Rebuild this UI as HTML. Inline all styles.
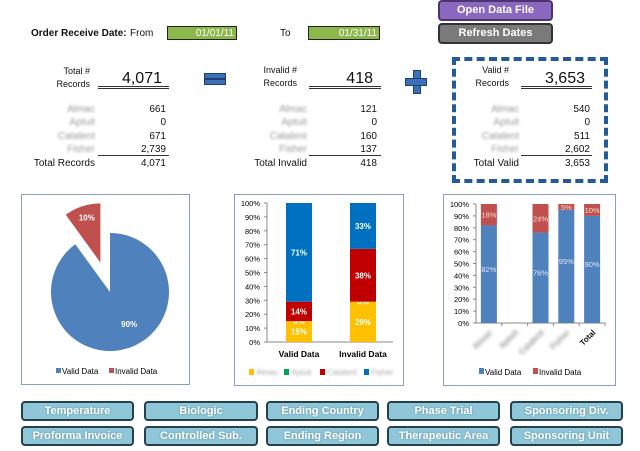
<!DOCTYPE html>
<html><head><meta charset="utf-8"><style>
body{margin:0;width:640px;height:451px;background:#fff;position:relative;overflow:hidden;font-family:"Liberation Sans",sans-serif;color:#111}
.a{position:absolute;white-space:nowrap}
.r{text-align:right}
.blur{color:#999;filter:blur(1.3px)}
.btn{position:absolute;box-sizing:border-box;border:2px solid #24424e;border-radius:4px;background:#8fc7d8;color:#fff;font-weight:bold;font-size:11px;text-align:center;text-shadow:0 0 2px #5a8a99;line-height:17px}
.dl{position:absolute;height:1px;border-top:1px solid #333;border-bottom:1px solid #333;height:1px}
</style></head><body>
<div class="a" style="left:31px;top:28px;font-size:10px;font-weight:bold">Order Receive Date:</div>
<div class="a" style="left:130px;top:28px;font-size:10px">From</div>
<div class="a r" style="left:167px;top:26px;width:70px;height:14px;background:#8cb84b;border:1px solid #222;color:#fff;font-size:10px;line-height:14px;padding-right:2px;box-sizing:border-box">01/01/11</div>
<div class="a" style="left:280px;top:28px;font-size:10px">To</div>
<div class="a r" style="left:308px;top:26px;width:72px;height:14px;background:#8cb84b;border:1px solid #222;color:#fff;font-size:10px;line-height:14px;padding-right:2px;box-sizing:border-box">01/31/11</div>
<div class="a" style="left:438px;top:0;width:115px;height:21px;background:#8a68c0;border:2px solid #4b3570;border-radius:4px;box-sizing:border-box;color:#fff;font-weight:bold;font-size:11px;text-align:center;line-height:17px">Open Data File</div>
<div class="a" style="left:438px;top:23px;width:115px;height:21px;background:#7a7a7a;border:2px solid #333;border-radius:4px;box-sizing:border-box;color:#fff;font-weight:bold;font-size:11px;text-align:center;line-height:17px">Refresh Dates</div>

<!-- Total -->
<div class="a r" style="left:40px;top:65px;width:50px;font-size:9px;line-height:13px">Total #<br>Records</div>
<div class="a r" style="left:100px;top:70px;width:62px;font-size:16px">4,071</div>
<div class="dl" style="left:98px;top:86px;width:71px"></div>
<div class="a" style="left:204px;top:73px;width:20px;height:4px;background:#3b6fb6;border:1px solid #1f3f6e"></div>
<div class="a" style="left:204px;top:79px;width:20px;height:4px;background:#3b6fb6;border:1px solid #1f3f6e"></div>

<div class="a r" style="left:240px;top:64px;width:57px;font-size:9px;line-height:13px">Invalid #<br>Records</div>
<div class="a r" style="left:320px;top:70px;width:53px;font-size:16px">418</div>
<div class="dl" style="left:309px;top:86px;width:72px"></div>
<div class="a" style="left:413px;top:70px;width:6px;height:22px;background:#3b6fb6;border:1px solid #1f3f6e"></div>
<div class="a" style="left:405px;top:78px;width:20px;height:6px;background:#3b6fb6;border:1px solid #1f3f6e"></div>

<div class="a" style="left:452px;top:57px;width:156px;height:126px;border:4px dashed #245a96;box-sizing:border-box"></div>
<div class="a r" style="left:460px;top:64px;width:49px;font-size:9px;line-height:13px">Valid #<br>Records</div>
<div class="a r" style="left:520px;top:70px;width:65px;font-size:16px">3,653</div>
<div class="dl" style="left:521px;top:86px;width:71px"></div>

<div id="tables"></div>

<!-- chart boxes -->
<div class="a" style="left:21px;top:194px;width:169px;height:191px;border:1px solid #8aa0c0;box-sizing:border-box"></div>
<div class="a" style="left:234px;top:194px;width:170px;height:192px;border:1px solid #8aa0c0;box-sizing:border-box"></div>
<div class="a" style="left:443px;top:194px;width:173px;height:192px;border:1px solid #8aa0c0;box-sizing:border-box"></div>
<svg id="svg" width="640" height="451" style="position:absolute;left:0;top:0" font-family="Liberation Sans, sans-serif"></svg>

<div class="btn" style="left:21px;top:401px;width:113px;height:20px">Temperature</div>
<div class="btn" style="left:144px;top:401px;width:114px;height:20px">Biologic</div>
<div class="btn" style="left:266px;top:401px;width:113px;height:20px">Ending Country</div>
<div class="btn" style="left:387px;top:401px;width:113px;height:20px">Phase Trial</div>
<div class="btn" style="left:510px;top:401px;width:113px;height:20px">Sponsoring Div.</div>
<div class="btn" style="left:21px;top:426px;width:113px;height:20px">Proforma Invoice</div>
<div class="btn" style="left:144px;top:426px;width:114px;height:20px">Controlled Sub.</div>
<div class="btn" style="left:266px;top:426px;width:113px;height:20px">Ending Region</div>
<div class="btn" style="left:387px;top:426px;width:113px;height:20px">Therapeutic Area</div>
<div class="btn" style="left:510px;top:426px;width:113px;height:20px">Sponsoring Unit</div>

<script>
const vendors=["Almac","Aptuit","Catalent","Fisher"];
const totalVals=["661","0","671","2,739"];
const invalidVals=["121","0","160","137"];
const validVals=["540","0","511","2,602"];
const pieValues=[90,10];
const stackCats=["Valid Data","Invalid Data"];
const stackAlmac=[15,29];
const stackAptuit=[0,0];
const stackCatalent=[14,38];
const stackFisher=[71,33];
const vCats=["Almac","Aptuit","Catalent","Fisher","Total"];
const vValid=[82,0,76,95,90];
const vInvalid=[18,0,24,5,10];
const ticks=[0,10,20,30,40,50,60,70,80,90,100];

const T=document.getElementById('tables');
function div(html,l,t,w,cls,name){const d=document.createElement('div');d.className='a '+cls;d.style.left=l+'px';d.style.top=t+'px';if(w)d.style.width=w+'px';d.style.fontSize='10px';d.innerHTML=html;


T.appendChild(d);}
const rows=[104,117,131,144];
const cols=[{nr:95,vr:166,vals:totalVals,tl:"Total Records",tv:"4,071",ll:98,lw:71,k:"total"},{nr:307,vr:377,vals:invalidVals,tl:"Total Invalid",tv:"418",ll:309,lw:72,k:"invalid"},{nr:519,vr:590,vals:validVals,tl:"Total Valid",tv:"3,653",ll:521,lw:71,k:"valid"}];
cols.forEach(c=>{
 vendors.forEach((v,i)=>{div(v,c.nr-60,rows[i],60,'r blur',c.k+'-vendor-name');div(c.vals[i],c.vr-60,rows[i],60,'r',c.k+'-vendor-value');});
 div(c.tl,c.nr-70,158,70,'r',c.k+'-sum-label');div(c.tv,c.vr-60,158,60,'r',c.k+'-sum-value');
 const l=document.createElement('div');l.className='a';l.style.cssText=`left:${c.ll}px;top:155px;width:${c.lw}px;border-top:1px solid #333`;
 
 
 T.appendChild(l);
});

const S=document.getElementById('svg');const NS='http://www.w3.org/2000/svg';
function el(tag,at,name,txt){const e=document.createElementNS(NS,tag);for(const k in at)e.setAttribute(k,at[k]);


if(txt!==undefined)e.textContent=txt;S.appendChild(e);return e;}

// pie
const cx=110,cy=292,R=59;const tot=pieValues[0]+pieValues[1];
const invA=pieValues[1]/tot*2*Math.PI;
function pt(a,r,ox,oy){return [ox+r*Math.sin(a),oy-r*Math.cos(a)];}
let p1=pt(0,R,cx,cy),p2=pt(2*Math.PI-invA,R,cx,cy);
el('path',{d:`M${cx},${cy}L${p1[0]},${p1[1]}A${R},${R} 0 1 1 ${p2[0]},${p2[1]}Z`,fill:'#4f81bd'},'pie-slice-valid');
const mid=-invA/2;const ox=cx+31*Math.sin(mid),oy=cy-31*Math.cos(mid);
let q1=pt(-invA,R,ox,oy),q2=pt(0,R,ox,oy);
el('path',{d:`M${ox},${oy}L${q1[0]},${q1[1]}A${R},${R} 0 0 1 ${q2[0]},${q2[1]}Z`,fill:'#c0504d'},'pie-slice-invalid');
let lv=pt(Math.PI-0.5,40,cx,cy);el('text',{x:lv[0],y:lv[1],fill:'#fff','font-size':8,'font-weight':'bold','text-anchor':'middle'},'pie-label-valid',pieValues[0]+'%');
let li=pt(mid,44,ox,oy);el('text',{x:li[0],y:li[1],fill:'#fff','font-size':8,'font-weight':'bold','text-anchor':'middle'},'pie-label-invalid',pieValues[1]+'%');
el('rect',{x:56,y:368,width:5,height:5,fill:'#4f81bd'},'pie-legend-valid-swatch');
el('text',{x:62,y:374,'font-size':8},'pie-legend-valid','Valid Data');
el('rect',{x:109,y:368,width:5,height:5,fill:'#c0504d'},'pie-legend-invalid-swatch');
el('text',{x:115,y:374,'font-size':8},'pie-legend-invalid','Invalid Data');

// stacked chart
const y2=v=>342-v/100*139;
ticks.forEach(t=>{el('text',{x:260,y:y2(t)+3,'font-size':7.5,'text-anchor':'end'},'stack-y-tick',t+'%');el('line',{x1:264,x2:267,y1:y2(t),y2:y2(t),stroke:'#888'},'stack-y-tickmark');});
el('line',{x1:267,x2:267,y1:y2(100),y2:342,stroke:'#888'},'stack-y-axis');
el('line',{x1:267,x2:393,y1:342,y2:342,stroke:'#888'},'stack-x-axis');
const sSeries=[[stackAlmac,'#ffc000','almac'],[stackAptuit,'#00a550','aptuit'],[stackCatalent,'#c00000','catalent'],[stackFisher,'#0070c0','fisher']];
const bx2=[286,350],bw2=26;
stackCats.forEach((c,i)=>{let acc=0;const lx=bx2[i]+bw2/2;
 sSeries.forEach(([arr,col,n])=>{const v=arr[i];el('rect',{x:bx2[i],y:y2(acc+v),width:bw2,height:y2(acc)-y2(acc+v),fill:col},'stack-bar-'+n);
  el('text',{x:lx,y:(y2(acc)+y2(acc+v))/2+3,fill:'#fff','font-size':8,'font-weight':'bold','text-anchor':'middle'},'stack-label-'+n,v+'%');acc+=v;});
 el('text',{x:lx,y:357,'font-size':8.5,'font-weight':'bold','text-anchor':'middle'},'stack-x-label',c);
});
[249,284,320,364].forEach((x,i)=>{el('rect',{x:x,y:369,width:5,height:6,fill:sSeries[i][1]},'stack-legend-swatch');el('text',{x:x+7,y:375,'font-size':8,fill:'#aaa',style:'filter:blur(1.2px)'},'stack-legend-label',vendors[i]);});

// validity chart
const y3=v=>323-v/100*119;const xl=476,cw=(605-476)/5,bw3=16;
ticks.forEach(t=>{el('text',{x:469,y:y3(t)+3,'font-size':7.5,'text-anchor':'end'},'valid-y-tick',t+'%');el('line',{x1:473,x2:476,y1:y3(t),y2:y3(t),stroke:'#888'},'valid-y-tickmark');});
el('line',{x1:476,x2:476,y1:y3(100),y2:323,stroke:'#888'},'valid-y-axis');
el('line',{x1:476,x2:605,y1:323,y2:323,stroke:'#888'},'valid-x-axis');
vCats.forEach((c,i)=>{const cxx=xl+cw*(i+0.5),x=cxx-bw3/2;
 el('line',{x1:xl+cw*(i+1),x2:xl+cw*(i+1),y1:323,y2:326,stroke:'#888'},'valid-x-tickmark');
 const v=vValid[i],w=vInvalid[i];
 if(v+w>0){
 el('rect',{x:x,y:y3(v),width:bw3,height:323-y3(v),fill:'#4f81bd'},'valid-bar-valid');
 el('rect',{x:x,y:y3(v+w),width:bw3,height:y3(v)-y3(v+w),fill:'#c0504d'},'valid-bar-invalid');
 el('text',{x:cxx,y:y3(v/2+2),fill:'#dfe8f5','font-size':7.5,'text-anchor':'middle'},'valid-label-valid',v+'%');
 el('text',{x:cxx,y:y3(v+w/2)+3,fill:'#f5dede','font-size':7.5,'text-anchor':'middle'},'valid-label-invalid',w+'%');}
 const t=el('text',{x:cxx+4,y:333,'font-size':8,'font-weight':'bold','text-anchor':'end',transform:`rotate(-45 ${cxx+4} 333)`,fill:i<4?'#999':'#111',style:i<4?'filter:blur(1.5px)':''},'valid-x-label',c);
});
el('rect',{x:479,y:368,width:5,height:6,fill:'#4f81bd'},'valid-legend-valid-swatch');
el('text',{x:485,y:375,'font-size':8},'valid-legend-valid','Valid Data');
el('rect',{x:533,y:368,width:5,height:6,fill:'#c0504d'},'valid-legend-invalid-swatch');
el('text',{x:539,y:375,'font-size':8},'valid-legend-invalid','Invalid Data');
</script>
</body></html>
